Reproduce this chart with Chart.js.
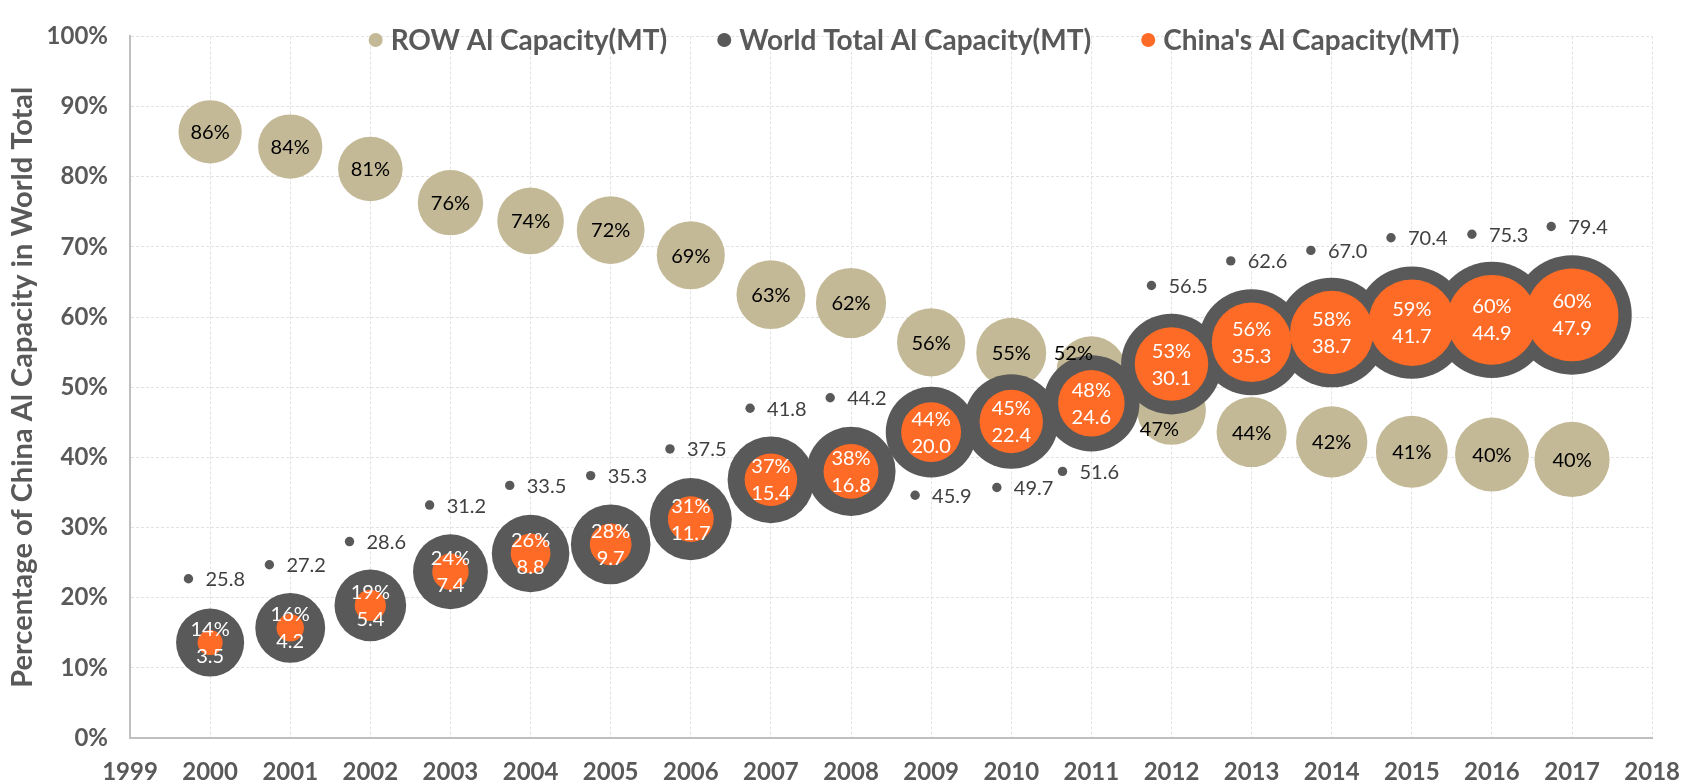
<!DOCTYPE html>
<html>
<head>
<meta charset="utf-8">
<script src="https://cdn.jsdelivr.net/npm/chart.js@4.4.0/dist/chart.umd.min.js"></script>
<style>
  html, body { margin: 0; padding: 0; background: #fff; }
  #wrap { width: 1700px; height: 782px; }
</style>
</head>
<body>
<div id="wrap"><canvas id="chart" width="1700" height="782"></canvas></div>
<script>
// --- data ---
const years = [2000, 2001, 2002, 2003, 2004, 2005, 2006, 2007, 2008, 2009, 2010, 2011, 2012, 2013, 2014, 2015, 2016, 2017];
const worldTotal = [25.8, 27.2, 28.6, 31.2, 33.5, 35.3, 37.5, 41.8, 44.2, 45.9, 49.7, 51.6, 56.5, 62.6, 67.0, 70.4, 75.3, 79.4];
const chinaCapacity = [3.5, 4.2, 5.4, 7.4, 8.8, 9.7, 11.7, 15.4, 16.8, 20.0, 22.4, 24.6, 30.1, 35.3, 38.7, 41.7, 44.9, 47.9];
const rowCapacity = [22.3, 23.0, 23.2, 23.8, 24.7, 25.6, 25.8, 26.4, 27.4, 25.9, 27.3, 27.0, 26.4, 27.3, 28.3, 28.7, 30.4, 31.5];
const chinaShare = [13.6, 15.7, 18.9, 23.7, 26.3, 27.6, 31.2, 36.8, 38.0, 43.6, 45.1, 47.7, 53.3, 56.4, 57.8, 59.2, 59.6, 60.3];
const rowShare = [86.4, 84.3, 81.1, 76.3, 73.7, 72.4, 68.8, 63.2, 62.0, 56.4, 54.9, 52.3, 46.7, 43.6, 42.2, 40.8, 40.4, 39.7];

// where Excel put the "World Total" labels (with their legend-key dot)
const worldLabelX = [1999.73, 2000.74, 2001.74, 2002.74, 2003.74, 2004.75, 2005.74, 2006.74, 2007.74, 2008.80, 2009.82, 2010.64, 2011.75, 2012.74, 2013.74, 2014.74, 2015.75, 2016.74];
const worldLabelY = [22.7, 24.7, 28.0, 33.2, 36.0, 37.4, 41.2, 47.0, 48.5, 34.6, 35.7, 38.0, 64.5, 68.0, 69.5, 71.3, 71.8, 72.9];

const seriesNames = ['ROW Al Capacity(MT)', 'World Total Al Capacity(MT)', "China's Al Capacity(MT)"];
const seriesColors = ['#c4b996', '#595959', '#fe6b26'];

// --- styling bits ---
const BUBBLE_SCALE = 6.7;          // px radius per sqrt(MT)
const AXIS_FONT = 'Lato, "DejaVu Sans", sans-serif';
const LABEL_FONT = 'Lato, "Open Sans", sans-serif';
const GREY = '#595959';
const rowLabelShift = { 11: [-18, -19], 12: [-12, 18] };

const sizeOf = v => BUBBLE_SCALE * Math.sqrt(v);

const rowPoints = years.map((yr, i) => ({ x: yr, y: rowShare[i], r: sizeOf(rowCapacity[i]) }));
const worldPoints = years.map((yr, i) => ({ x: yr, y: chinaShare[i], r: sizeOf(worldTotal[i]) }));
const chinaPoints = years.map((yr, i) => ({ x: yr, y: chinaShare[i], r: sizeOf(chinaCapacity[i]) }));
const worldKeyPoints = years.map((yr, i) => ({ x: worldLabelX[i], y: worldLabelY[i], r: 4.7 }));

// data labels + legend drawn on top of the bubbles
const labelPlugin = {
  id: 'bubbleLabels',
  afterDatasetsDraw(chart) {
    const ctx = chart.ctx;
    ctx.save();
    ctx.textAlign = 'center';
    ctx.textBaseline = 'middle';

    // ROW percentages
    ctx.font = '20px ' + LABEL_FONT;
    ctx.fillStyle = '#000';
    chart.getDatasetMeta(0).data.forEach((el, i) => {
      const s = rowLabelShift[i] || [0, 0];
      ctx.fillText(Math.round(rowShare[i]) + '%', el.x + s[0], el.y + s[1] + 1);
    });

    // China share + capacity, two lines
    ctx.fillStyle = '#fff';
    chart.getDatasetMeta(2).data.forEach((el, i) => {
      ctx.fillText(Math.round(chinaShare[i]) + '%', el.x, el.y - 13);
      ctx.fillText(chinaCapacity[i].toFixed(1), el.x, el.y + 14);
    });

    // world totals beside their key dot
    ctx.textAlign = 'left';
    ctx.fillStyle = '#404040';
    chart.getDatasetMeta(3).data.forEach((el, i) => {
      ctx.fillText(worldTotal[i].toFixed(1), el.x + 17, el.y + 1);
    });
    ctx.restore();
  },
  afterDraw(chart) {
    // legend sits inside the plot, above the top bubbles
    const ctx = chart.ctx;
    ctx.save();
    ctx.font = 'bold 28px ' + AXIS_FONT;
    ctx.textBaseline = 'middle';
    const gapDot = 15, gapItem = 50, y = 40;
    const widths = seriesNames.map(n => ctx.measureText(n).width);
    let total = 0;
    widths.forEach((w, i) => { total += 7 + gapDot + w + (i < widths.length - 1 ? gapItem : 0); });
    let x = 914 - total / 2;
    seriesNames.forEach((n, i) => {
      ctx.fillStyle = seriesColors[i];
      ctx.beginPath();
      ctx.arc(x + 7, y, 7, 0, Math.PI * 2);
      ctx.fill();
      ctx.fillStyle = GREY;
      ctx.fillText(n, x + 7 + gapDot, y + 1);
      x += 7 + gapDot + widths[i] + gapItem;
    });
    ctx.restore();
  }
};

new Chart(document.getElementById('chart'), {
  type: 'bubble',
  data: {
    datasets: [
      { label: seriesNames[0], data: rowPoints, backgroundColor: seriesColors[0], borderWidth: 0, order: 3 },
      { label: seriesNames[1], data: worldPoints, backgroundColor: seriesColors[1], borderWidth: 0, order: 2 },
      { label: seriesNames[2], data: chinaPoints, backgroundColor: seriesColors[2], borderWidth: 0, order: 1 },
      { label: 'world key', data: worldKeyPoints, backgroundColor: seriesColors[1], borderWidth: 0, order: 0 }
    ]
  },
  options: {
    responsive: false,
    animation: false,
    events: [],
    clip: false,
    layout: { autoPadding: false, padding: { top: 17, right: 44, bottom: 0, left: 0 } },
    plugins: {
      legend: { display: false },
      tooltip: { enabled: false }
    },
    scales: {
      x: {
        type: 'linear',
        min: 1999,
        max: 2018,
        afterFit: s => { s.height = 44; },
        ticks: {
          stepSize: 1,
          autoSkip: false,
          padding: 20,
          color: GREY,
          font: { family: AXIS_FONT, size: 24, weight: 'bold' },
          callback: v => String(v)
        },
        grid: { color: '#e2e2e2', lineWidth: 1, drawTicks: false },
        border: { display: true, color: '#bfbfbf', width: 2, dash: [3, 2] }
      },
      y: {
        min: 0,
        max: 100,
        afterFit: s => { s.width = 130; },
        ticks: {
          stepSize: 10,
          padding: 22,
          color: GREY,
          font: { family: AXIS_FONT, size: 24, weight: 'bold' },
          callback: v => v + '%'
        },
        title: {
          display: true,
          text: 'Percentage of China Al Capacity in World Total',
          color: GREY,
          font: { family: AXIS_FONT, size: 29, weight: 'bold' },
          padding: { top: 5, bottom: 0 }
        },
        grid: { color: '#e2e2e2', lineWidth: 1, drawTicks: false },
        border: { display: true, color: '#bfbfbf', width: 2, dash: [3, 2] }
      }
    }
  },
  plugins: [labelPlugin]
});
</script>
</body>
</html>
